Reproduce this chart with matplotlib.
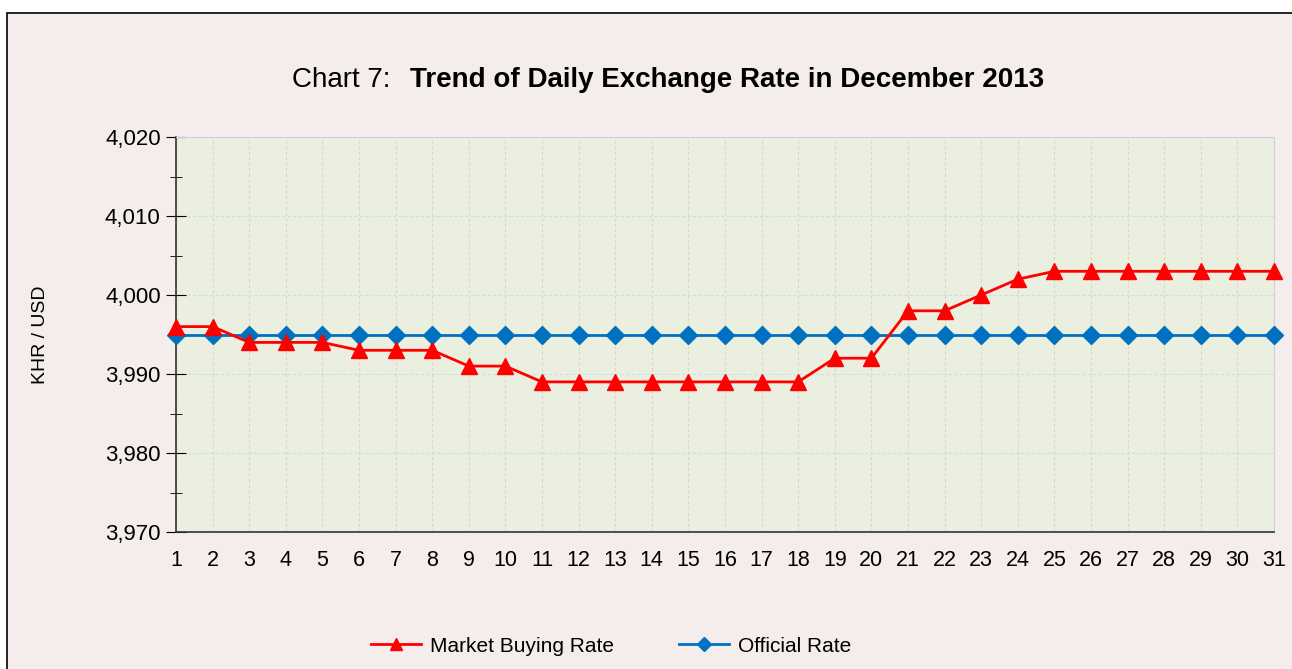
import matplotlib.pyplot as plt
from matplotlib.patches import Rectangle
from matplotlib.ticker import FuncFormatter, MultipleLocator

days = list(range(1, 32))
market = [3996, 3996, 3994, 3994, 3994, 3993, 3993, 3993, 3991, 3991,
          3989, 3989, 3989, 3989, 3989, 3989, 3989, 3989, 3992, 3992,
          3998, 3998, 4000, 4002, 4003, 4003, 4003, 4003, 4003, 4003, 4003]
official = [3995] * 31

plt.rcParams['font.family'] = ['Liberation Sans', 'DejaVu Sans']

W, H = 1292, 669
fig = plt.figure(figsize=(W / 100, H / 100), dpi=100)
fig.patch.set_facecolor('white')
# pink chart area with black border
fig.patches.append(Rectangle((7 / W, -0.1), 1.1, 1 - 13 / H + 0.1,
                             transform=fig.transFigure, facecolor='#F5ECEC',
                             edgecolor='black', linewidth=1.2, zorder=-5))

ax = fig.add_axes([176 / W, 1 - 532 / H, (1274 - 176) / W, (532 - 137) / H])
ax.set_zorder(2)
ax.set_facecolor('#EBEFDF')

ax.plot(days, official, color='#0070C0', lw=2, marker='D', ms=9,
        label='Official Rate', zorder=3, clip_on=False)
ax.plot(days, market, color='#FF0000', lw=2, marker='^', ms=11,
        label='Market Buying Rate', zorder=4, clip_on=False)

ax.set_xlim(1, 31)
ax.set_ylim(3970, 4020)
ax.set_xticks(days)
ax.yaxis.set_major_locator(MultipleLocator(10))
ax.yaxis.set_minor_locator(MultipleLocator(5))
ax.yaxis.set_major_formatter(FuncFormatter(lambda v, p: f'{int(v):,}'))

ax.grid(axis='x', color='#D6D9D0', linestyle=(0, (3, 2)), lw=0.8)
ax.grid(axis='y', color='#CCDDEE', linestyle=(0, (3, 2)), lw=0.8)
ax.set_axisbelow(True)

for s in ['top', 'right']:
    ax.spines[s].set_color('#C0D4EC')
    ax.spines[s].set_linestyle((0, (2, 1)))
for s in ['left', 'bottom']:
    ax.spines[s].set_color('#333333')
    ax.spines[s].set_linewidth(1.2)

ax.tick_params(axis='x', length=0, pad=13, labelsize=15.5)
ax.tick_params(axis='y', which='major', direction='inout', length=14, labelsize=16, pad=4)
ax.tick_params(axis='y', which='minor', direction='inout', length=8)

ax.set_ylabel('KHR / USD', fontsize=14, labelpad=40)

fig.text(390 / W, 1 - 80 / H, 'Chart 7:', ha='right', va='center', fontsize=20)
fig.text(410 / W, 1 - 80 / H, 'Trend of Daily Exchange Rate in December 2013',
         ha='left', va='center', fontsize=20, fontweight='bold')

h, l = ax.get_legend_handles_labels()
fig.legend(h[::-1], l[::-1], loc='center', bbox_to_anchor=(0.473, 1 - 646 / H),
           ncol=2, frameon=False, fontsize=15, columnspacing=3.1, handlelength=2.4,
           handletextpad=0.45, markerscale=0.75)

fig.savefig('out.png', dpi=100, facecolor=fig.get_facecolor())
